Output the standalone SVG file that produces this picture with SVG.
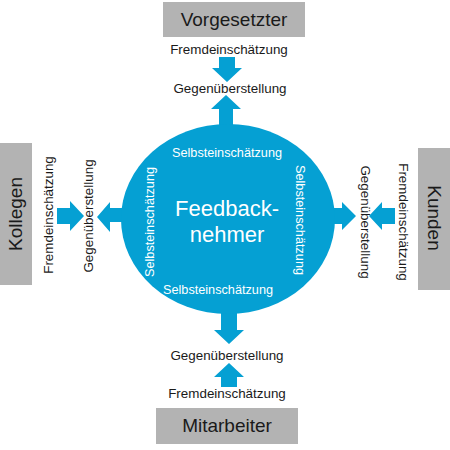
<svg xmlns="http://www.w3.org/2000/svg" width="450" height="450" viewBox="0 0 450 450">
<style>
.box{fill:#b3b3b3}
.blue{fill:#05a0d3}
.lbl{font-family:"Liberation Sans",Arial,sans-serif;font-size:13.4px;fill:#1a1a1a;text-anchor:middle}
.big{font-family:"Liberation Sans",Arial,sans-serif;font-size:19px;fill:#1a1a1a;text-anchor:middle}
.self{font-family:"Liberation Sans",Arial,sans-serif;font-size:12.7px;fill:#ffffff;text-anchor:middle}
.fb{font-family:"Liberation Sans",Arial,sans-serif;font-size:22px;fill:#ffffff;text-anchor:middle}
</style>
<rect width="450" height="450" fill="#ffffff"/>
<g id="connectors" class="blue">
<polygon points="219,57 235,57 235,68 242,68 227,82 212,68 219,68"/>
<polygon points="219,130 233,130 233,109 241,109 226,95 211,109 219,109"/>
<polygon points="221,310 237,310 237,330 244,330 229,344 214,330 221,330"/>
<polygon points="221,387 237,387 237,377 244,377 229,363 214,377 221,377"/>
<polygon points="57,208 70,208 70,201 84,216 70,231 70,224 57,224"/>
<polygon points="126,208 110,208 110,202 97,217 110,232 110,222 126,222"/>
<polygon points="328,208 342,208 342,202 356,216 342,230 342,224 328,224"/>
<polygon points="395,208 382,208 382,202 369,216 382,230 382,224 395,224"/>
</g>
<g id="feedbacknehmer">
<ellipse class="blue" cx="228" cy="219" rx="107" ry="95"/>
<text class="fb" x="227" y="216">Feedback-</text>
<text class="fb" x="227" y="242">nehmer</text>
<text class="self" x="227" y="157">Selbsteinschätzung</text>
<text class="self" x="218" y="294">Selbsteinschätzung</text>
<text class="self" transform="translate(154,222) rotate(-90)">Selbsteinschätzung</text>
<text class="self" transform="translate(296,220) rotate(90)">Selbsteinschätzung</text>
</g>
<g id="vorgesetzter">
<rect class="box" x="163" y="2" width="142" height="35"/>
<text class="big" x="234" y="26">Vorgesetzter</text>
<text class="lbl" x="229" y="54">Fremdeinschätzung</text>
<text class="lbl" x="230" y="93">Gegenüberstellung</text>
</g>
<g id="mitarbeiter">
<rect class="box" x="156" y="408" width="142" height="36"/>
<text class="big" x="227" y="432">Mitarbeiter</text>
<text class="lbl" x="227" y="360">Gegenüberstellung</text>
<text class="lbl" x="227" y="398">Fremdeinschätzung</text>
</g>
<g id="kollegen">
<rect class="box" x="0" y="143" width="32" height="142"/>
<text class="big" transform="translate(22,214) rotate(-90)">Kollegen</text>
<text class="lbl" transform="translate(53,215) rotate(-90)">Fremdeinschätzung</text>
<text class="lbl" transform="translate(93,216) rotate(-90)">Gegenüberstellung</text>
</g>
<g id="kunden">
<rect class="box" x="418" y="148" width="32" height="142"/>
<text class="big" transform="translate(428,218) rotate(90)">Kunden</text>
<text class="lbl" transform="translate(361,222) rotate(90)">Gegenüberstellung</text>
<text class="lbl" transform="translate(399,222) rotate(90)">Fremdeinschätzung</text>
</g>
</svg>
